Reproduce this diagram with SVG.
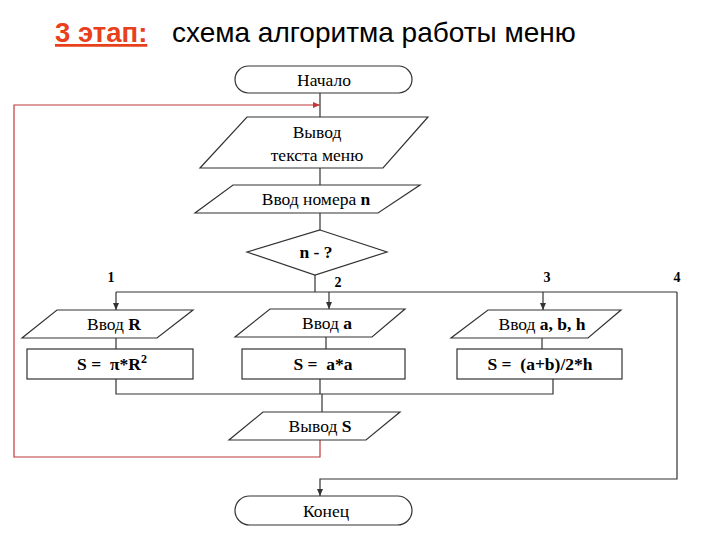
<svg xmlns="http://www.w3.org/2000/svg" width="720" height="540" viewBox="0 0 720 540">
<defs>
<marker id="ah" markerWidth="8" markerHeight="8" refX="7" refY="4" orient="auto" markerUnits="userSpaceOnUse">
<path d="M0,1 L7,4 L0,7 Z" fill="#333"/>
</marker>
<marker id="ahr" markerWidth="8" markerHeight="8" refX="7" refY="4" orient="auto" markerUnits="userSpaceOnUse">
<path d="M0,1 L7,4 L0,7 Z" fill="#c0393b"/>
</marker>
<style>
.shape{fill:#fff;stroke:#333;stroke-width:1.2}
.ln{fill:none;stroke:#333;stroke-width:1.2}
.red{fill:none;stroke:#c0393b;stroke-width:1.2}
.t{font-family:"Liberation Serif","DejaVu Serif Condensed","DejaVu Serif",serif;font-size:17.5px;fill:#000;text-anchor:middle}
.b{font-weight:bold}
.lbl{font-family:"Liberation Serif","DejaVu Serif",serif;font-size:14px;font-weight:bold;fill:#000;text-anchor:middle}
</style>
</defs>
<rect width="720" height="540" fill="#fff"/>
<g id="title">
<text x="55" y="42" font-family="'Liberation Sans',Arial,sans-serif" font-size="27.5" font-weight="bold" fill="#e8401c" text-decoration="underline">3 этап:</text>
<text x="172" y="42" font-family="'Liberation Sans',Arial,sans-serif" font-size="28" fill="#000">схема алгоритма работы меню</text>
</g>
<g id="connectors">
<path class="ln" d="M320,93 V117"/>
<path class="ln" d="M320,168 V185"/>
<path class="ln" d="M320,213 V230"/>
<path class="ln" d="M315,275 V292"/>
<path class="ln" d="M116,292 H677"/>
<path class="ln" d="M116,292 V310" marker-end="url(#ah)"/>
<path class="ln" d="M329,292 V309" marker-end="url(#ah)"/>
<path class="ln" d="M543,292 V310" marker-end="url(#ah)"/>
<path class="ln" d="M677,292 V479 H320 V496" marker-end="url(#ah)"/>
<path class="ln" d="M116,338 V349"/>
<path class="ln" d="M326,337 V349"/>
<path class="ln" d="M542,338 V349"/>
<path class="ln" d="M116,379 V394 H553 V379"/>
<path class="ln" d="M320,379 V394"/>
<path class="ln" d="M322,394 V412"/>
<path class="red" d="M320,440 V457 H14 V105 H320" marker-end="url(#ahr)"/>
<text class="lbl" x="111" y="282">1</text>
<text class="lbl" x="338" y="287">2</text>
<text class="lbl" x="547" y="282">3</text>
<text class="lbl" x="677" y="282">4</text>
</g>
<g id="start">
<rect class="shape" x="235" y="66" width="177" height="27" rx="13.5"/>
<text class="t" x="324" y="86">Начало</text>
</g>
<g id="output-menu">
<polygon class="shape" points="247,117 428,117 383,168 200,168"/>
<text class="t" x="317" y="138">Вывод</text>
<text class="t" x="317" y="161">текста меню</text>
</g>
<g id="input-n">
<polygon class="shape" points="233,185 420,185 378,213 195,213"/>
<text class="t" x="316" y="205">Ввод номера <tspan class="b">n</tspan></text>
</g>
<g id="decision">
<polygon class="shape" points="320,230 387,252 315,275 247,252"/>
<text class="t b" x="316" y="258">n - ?</text>
</g>
<g id="input-R">
<polygon class="shape" points="57,310 193,310 157,338 22,338"/>
<text class="t" x="114" y="330">Ввод <tspan class="b">R</tspan></text>
</g>
<g id="calc-circle">
<rect class="shape" x="27" y="349" width="166" height="30"/>
<text class="t b" x="112" y="370" xml:space="preserve">S =  π*R<tspan font-size="12" dy="-7">2</tspan></text>
</g>
<g id="input-a">
<polygon class="shape" points="270,309 405,309 372,337 235,337"/>
<text class="t" x="327" y="329">Ввод <tspan class="b">a</tspan></text>
</g>
<g id="calc-square">
<rect class="shape" x="242" y="349" width="163" height="30"/>
<text class="t b" x="323" y="370" xml:space="preserve">S =  a*a</text>
</g>
<g id="input-abh">
<polygon class="shape" points="488,310 621,310 588,338 451,338"/>
<text class="t" x="542" y="330">Ввод <tspan class="b">a, b, h</tspan></text>
</g>
<g id="calc-trap">
<rect class="shape" x="457" y="349" width="165" height="30"/>
<text class="t b" x="540" y="370" xml:space="preserve">S =  (a+b)/2*h</text>
</g>
<g id="output-S">
<polygon class="shape" points="263,412 400,412 366,440 229,440"/>
<text class="t" x="320" y="432">Вывод <tspan class="b">S</tspan></text>
</g>
<g id="end">
<rect class="shape" x="235" y="496" width="177" height="29" rx="14.5"/>
<text class="t" x="326" y="517">Конец</text>
</g>
</svg>
